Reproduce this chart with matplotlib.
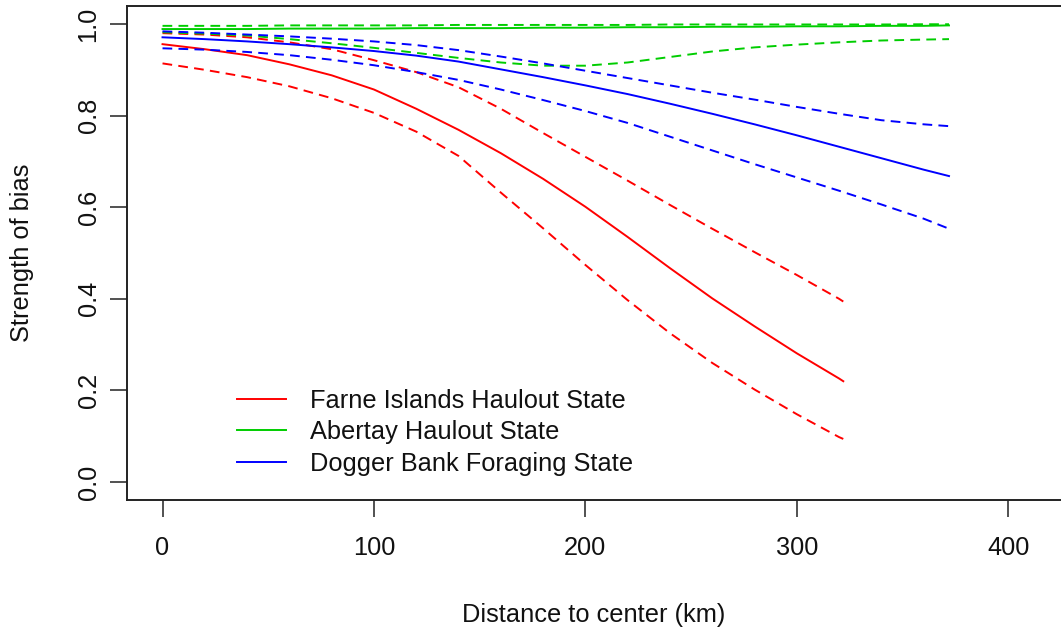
import matplotlib
matplotlib.use("Agg")
import matplotlib.pyplot as plt

plt.rcParams['font.family'] = ['Liberation Sans', 'DejaVu Sans']
plt.rcParams['lines.scale_dashes'] = False

# ---- data ----
x_farne = [0, 20, 40, 60, 80, 100, 120, 140, 160, 180, 200, 220, 240, 260, 280, 300, 320, 322]
farne_fit = [0.956, 0.945, 0.932, 0.912, 0.888, 0.857, 0.815, 0.769, 0.718, 0.662, 0.601,
             0.535, 0.467, 0.401, 0.340, 0.281, 0.226, 0.220]
farne_lo = [0.914, 0.900, 0.884, 0.864, 0.838, 0.806, 0.765, 0.712, 0.632, 0.554, 0.474,
            0.397, 0.325, 0.260, 0.202, 0.148, 0.098, 0.094]
farne_hi = [0.980, 0.977, 0.971, 0.960, 0.945, 0.921, 0.895, 0.862, 0.815, 0.762, 0.710,
            0.658, 0.605, 0.553, 0.502, 0.452, 0.400, 0.394]

x_other = [0, 20, 40, 60, 80, 100, 120, 140, 160, 180, 200, 220, 240, 260, 280, 300, 320, 340, 360, 372]
abertay_fit = [0.989, 0.989, 0.989, 0.990, 0.990, 0.990, 0.991, 0.991, 0.991, 0.992,
               0.992, 0.993, 0.993, 0.994, 0.994, 0.995, 0.995, 0.996, 0.996, 0.997]
abertay_lo = [0.982, 0.979, 0.975, 0.967, 0.958, 0.948, 0.937, 0.926, 0.916, 0.909,
              0.909, 0.916, 0.928, 0.940, 0.949, 0.955, 0.960, 0.964, 0.966, 0.967]
abertay_hi = [0.996, 0.996, 0.996, 0.997, 0.997, 0.997, 0.997, 0.998, 0.998, 0.998,
              0.998, 0.998, 0.999, 0.999, 0.999, 0.999, 0.999, 0.999, 0.9995, 0.9995]

dogger_fit = [0.971, 0.967, 0.962, 0.956, 0.949, 0.941, 0.931, 0.918, 0.901, 0.884,
              0.866, 0.847, 0.826, 0.804, 0.781, 0.757, 0.732, 0.707, 0.682, 0.668]
dogger_lo = [0.947, 0.944, 0.939, 0.932, 0.922, 0.910, 0.895, 0.878, 0.857, 0.834,
             0.810, 0.784, 0.754, 0.724, 0.694, 0.665, 0.636, 0.606, 0.575, 0.553]
dogger_hi = [0.984, 0.981, 0.977, 0.973, 0.968, 0.962, 0.954, 0.943, 0.929, 0.914,
             0.898, 0.882, 0.866, 0.850, 0.835, 0.819, 0.804, 0.790, 0.781, 0.777]

labels = ["Farne Islands Haulout State", "Abertay Haulout State", "Dogger Bank Foraging State"]
x_ticks = [0, 100, 200, 300, 400]
y_ticks = [0.0, 0.2, 0.4, 0.6, 0.8, 1.0]

# ---- figure ----
W, H = 1061, 635
fig = plt.figure(figsize=(W / 100, H / 100), dpi=100)
left, right, top, bottom = 127, 1086, 5.7, 500.3
ax = fig.add_axes([left / W, 1 - bottom / H, (right - left) / W, (bottom - top) / H])

RED, GREEN, BLUE = "#FF0000", "#00CD00", "#0000FF"
lw = 1.4
dash = (0, (7.0, 4.5))

ax.plot(x_farne, farne_fit, color=RED, lw=lw, label=labels[0])
ax.plot(x_farne, farne_lo, color=RED, lw=lw, ls=dash)
ax.plot(x_farne, farne_hi, color=RED, lw=lw, ls=dash)

ax.plot(x_other, abertay_fit, color=GREEN, lw=lw, label=labels[1])
ax.plot(x_other, abertay_lo, color=GREEN, lw=lw, ls=dash)
ax.plot(x_other, abertay_hi, color=GREEN, lw=lw, ls=dash)

ax.plot(x_other, dogger_fit, color=BLUE, lw=lw, label=labels[2])
ax.plot(x_other, dogger_lo, color=BLUE, lw=lw, ls=dash)
ax.plot(x_other, dogger_hi, color=BLUE, lw=lw, ls=dash)

ax.set_xlim(-16.8, 436.8)
ax.set_ylim(-0.04, 1.04)
ax.set_xticks(x_ticks)
ax.set_xticklabels([str(v) for v in x_ticks])
ax.set_yticks(y_ticks)
ax.set_yticklabels([f"{v:.1f}" for v in y_ticks], rotation=90, va="center")

fs = 18.3
ax.tick_params(axis="both", direction="out", length=12, width=1.1, color="#222222",
               labelsize=fs, labelcolor="#111111")
ax.tick_params(axis="x", pad=14)
ax.tick_params(axis="y", pad=7)
for s in ax.spines.values():
    s.set_linewidth(1.4)
    s.set_color("#222222")
ax.spines['right'].set_visible(False)

fig.text(594 / W, 1 - 615 / H, "Distance to center (km)", ha="center", va="center",
         fontsize=fs, color="#111111")
fig.text(22 / W, 1 - 253 / H, "Strength of bias", ha="center", va="center",
         rotation=90, fontsize=fs, color="#111111")

leg = ax.legend(loc="upper left", bbox_to_anchor=(237 / W, 1 - 389 / H),
                bbox_transform=fig.transFigure, frameon=False, fontsize=fs,
                handlelength=1.93, handletextpad=0.95, labelspacing=0.29,
                borderpad=0, borderaxespad=0)
for t in leg.get_texts():
    t.set_color("#111111")

fig.savefig("out.png", dpi=100)
